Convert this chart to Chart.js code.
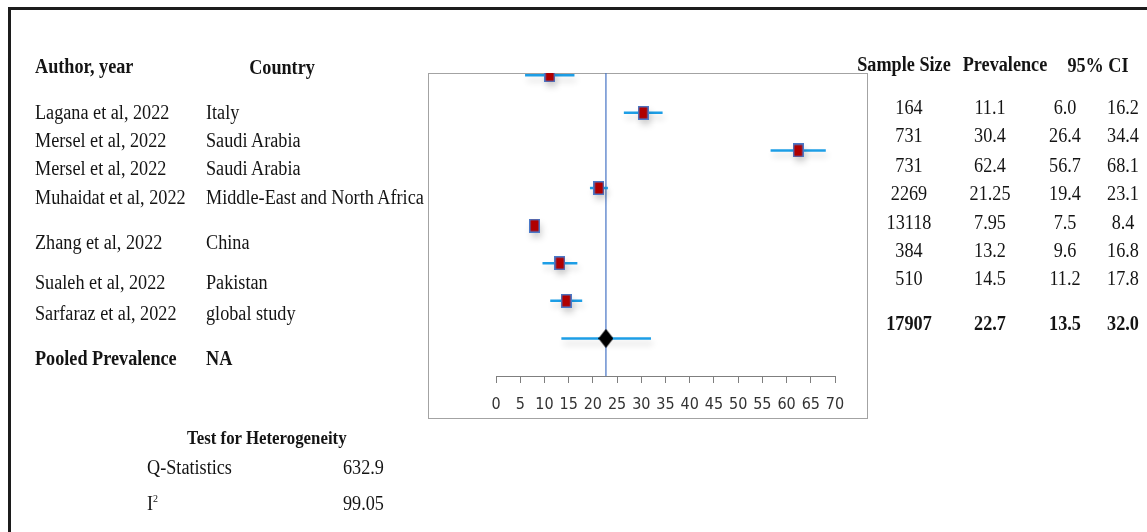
<!DOCTYPE html>
<html>
<head>
<meta charset="utf-8">
<script src="https://cdn.jsdelivr.net/npm/chart.js@4/dist/chart.umd.min.js"></script>
<style>
 html, body { margin: 0; padding: 0; background: #fff; }
 #page { position: relative; width: 1147px; height: 532px; overflow: hidden; }
 #frame { position: absolute; left: 8px; top: 7px; width: 1200px; height: 600px;
  border-left: 3px solid #1c1c1c; border-top: 3px solid #1c1c1c; }
 #plotBox { position: absolute; left: 428px; top: 73px; width: 438px; height: 344px;
  border: 1.5px solid #a3a3a3; }
 #chartWrap { position: absolute; left: 0; top: 0; width: 1147px; height: 532px; }
 .t { position: absolute; white-space: nowrap; font-family: "Liberation Serif", "Times New Roman", serif;
  font-size: 20px; line-height: 1; color: #141414; }
 .t.l { transform-origin: 0 50%; transform: translateY(-50%) scaleX(0.91); }
 .t.c { transform: translate(-50%, -50%) scaleX(0.91); }
 .t.b { font-weight: bold; }
 sup { font-size: 11px; vertical-align: 8px; }
</style>
</head>
<body>
<div id="page">
 <div id="frame"></div>
 <div id="plotBox"></div>
 <div id="chartWrap"><canvas id="forestChart" width="1147" height="532"></canvas></div>
</div>
<script>
// study data
var authors = ["Lagana et al, 2022", "Mersel et al, 2022", "Mersel et al, 2022", "Muhaidat et al, 2022",
 "Zhang et al, 2022", "Sualeh et al, 2022", "Sarfaraz et al, 2022"];
var countries = ["Italy", "Saudi Arabia", "Saudi Arabia", "Middle-East and North Africa",
 "China", "Pakistan", "global study"];
var sampleSizes = [164, 731, 731, 2269, 13118, 384, 510];
var prevalence = [11.1, 30.4, 62.4, 21.25, 7.95, 13.2, 14.5];
var ciLow = [6.0, 26.4, 56.7, 19.4, 7.5, 9.6, 11.2];
var ciHigh = [16.2, 34.4, 68.1, 23.1, 8.4, 16.8, 17.8];
var rowPos = [8, 7, 6, 5, 4, 3, 2];

// pooled estimate
var pooledLabel = "Pooled Prevalence";
var pooledCountry = "NA";
var pooledSize = 17907;
var pooledPrev = 22.7;
var pooledLow = 13.5;
var pooledHigh = 32.0;
var pooledPos = 1;

// heterogeneity
var qStatistic = 632.9;
var iSquared = 99.05;

// axis
var xMin = 0, xMax = 70, xStep = 5;
var yMax = 8.06;

function fmt(v) {
 return v % 1 === 0 ? v.toFixed(1) : String(v);
}

var page = document.getElementById("page");
function addText(html, x, y, opts) {
 opts = opts || {};
 var d = document.createElement("div");
 d.className = "t " + (opts.center ? "c" : "l") + (opts.bold ? " b" : "");
 d.style.left = x + "px";
 d.style.top = y + "px";
 if (opts.size) d.style.fontSize = opts.size + "px";
 d.innerHTML = html;
 page.appendChild(d);
}

// left table
addText("Author, year", 35, 66, { bold: true });
addText("Country", 282, 67, { bold: true, center: true });
var leftRowsY = [112, 140, 168, 197, 242, 282, 313];
authors.forEach(function (a, i) {
 addText(a, 35, leftRowsY[i]);
 addText(countries[i], 206, leftRowsY[i]);
});
addText(pooledLabel, 35, 358, { bold: true });
addText(pooledCountry, 206, 358, { bold: true });

// right table
addText("Sample Size", 904, 64, { bold: true, center: true });
addText("Prevalence", 1005, 64, { bold: true, center: true });
addText("95% CI", 1098, 65, { bold: true, center: true });
var rightRowsY = [107, 135, 165, 193, 222, 250, 278];
sampleSizes.forEach(function (n, i) {
 addText(String(n), 909, rightRowsY[i], { center: true });
 addText(fmt(prevalence[i]), 990, rightRowsY[i], { center: true });
 addText(fmt(ciLow[i]), 1065, rightRowsY[i], { center: true });
 addText(fmt(ciHigh[i]), 1123, rightRowsY[i], { center: true });
});
addText(String(pooledSize), 909, 323, { center: true, bold: true });
addText(fmt(pooledPrev), 990, 323, { center: true, bold: true });
addText(fmt(pooledLow), 1065, 323, { center: true, bold: true });
addText(fmt(pooledHigh), 1123, 323, { center: true, bold: true });

// heterogeneity block
addText("Test for Heterogeneity", 187, 438, { bold: true, size: 18.5 });
addText("Q-Statistics", 147, 467);
addText(String(qStatistic), 343, 467);
addText("I<sup>2</sup>", 147, 503);
addText(String(iSquared), 343, 503);

// marker images
function makeSquare() {
 var c = document.createElement("canvas");
 c.width = 11; c.height = 14;
 var g = c.getContext("2d");
 g.fillStyle = "#4a78c8";
 g.fillRect(0, 0, 11, 14);
 g.fillStyle = "#b00000";
 g.fillRect(1.5, 1.5, 8, 11);
 return c;
}
function makeDiamond() {
 var c = document.createElement("canvas");
 c.width = 15; c.height = 19;
 var g = c.getContext("2d");
 g.fillStyle = "#000";
 g.beginPath();
 g.moveTo(7.5, 0); g.lineTo(15, 9.5); g.lineTo(7.5, 19); g.lineTo(0, 9.5);
 g.closePath();
 g.fill();
 return c;
}

var barColor = "#1d9ee6";
var datasets = [];

datasets.push({
 label: "Studies",
 data: prevalence.map(function (p, i) { return { x: p, y: rowPos[i] }; }),
 pointStyle: makeSquare(),
 pointRadius: 7,
 showLine: false,
 order: 0,
 shadow: true,
 clip: { top: 0, left: false, right: false, bottom: false },
});

datasets.push({
 label: "Pooled",
 data: [{ x: pooledPrev, y: pooledPos }],
 pointStyle: makeDiamond(),
 pointRadius: 9,
 showLine: false,
 order: 0,
});

ciLow.forEach(function (lo, i) {
 datasets.push({
  label: "CI " + i,
  data: [{ x: lo, y: rowPos[i] }, { x: ciHigh[i], y: rowPos[i] }],
  showLine: true,
  borderColor: barColor,
  borderWidth: 2.5,
  pointRadius: 0,
  order: 1,
  shadow: true,
 });
});

datasets.push({
 label: "CI pooled",
 data: [{ x: pooledLow, y: pooledPos }, { x: pooledHigh, y: pooledPos }],
 showLine: true,
 borderColor: barColor,
 borderWidth: 2.5,
 pointRadius: 0,
 order: 1,
 shadow: true,
});

datasets.push({
 label: "Pooled line",
 data: [{ x: pooledPrev, y: 0 }, { x: pooledPrev, y: yMax }],
 showLine: true,
 borderColor: "#4472c4",
 borderWidth: 1.2,
 pointRadius: 0,
 order: 2,
});

var shadowPlugin = {
 id: "softShadow",
 beforeDatasetDraw: function (chart, args) {
  var ctx = chart.ctx;
  ctx.save();
  if (chart.data.datasets[args.index].shadow) {
   ctx.shadowColor = "rgba(0,0,0,0.16)";
   ctx.shadowBlur = 6;
   ctx.shadowOffsetX = 2;
   ctx.shadowOffsetY = 5;
  }
 },
 afterDatasetDraw: function (chart) {
  chart.ctx.restore();
 },
};

new Chart(document.getElementById("forestChart"), {
 type: "scatter",
 data: { datasets: datasets },
 plugins: [shadowPlugin],
 options: {
  responsive: false,
  animation: false,
  events: [],
  layout: { padding: { left: 496, right: 312, top: 73, bottom: 116 } },
  plugins: { legend: { display: false }, tooltip: { enabled: false } },
  scales: {
   x: {
    type: "linear",
    min: xMin,
    max: xMax,
    afterFit: function (scale) { scale.height = 40; },
    ticks: {
     stepSize: xStep,
     autoSkip: false,
     maxRotation: 0,
     padding: 12,
     color: "#333333",
     font: { family: "'Liberation Sans Narrow', 'DejaVu Sans Condensed', 'DejaVu Sans'", size: 16 },
    },
    grid: { drawOnChartArea: false, drawTicks: true, tickLength: 7, color: "#7f7f7f" },
    border: { display: true, color: "#7f7f7f", width: 1 },
   },
   y: {
    type: "linear",
    display: false,
    min: 0,
    max: yMax,
   },
  },
 },
});
</script>
</body>
</html>
